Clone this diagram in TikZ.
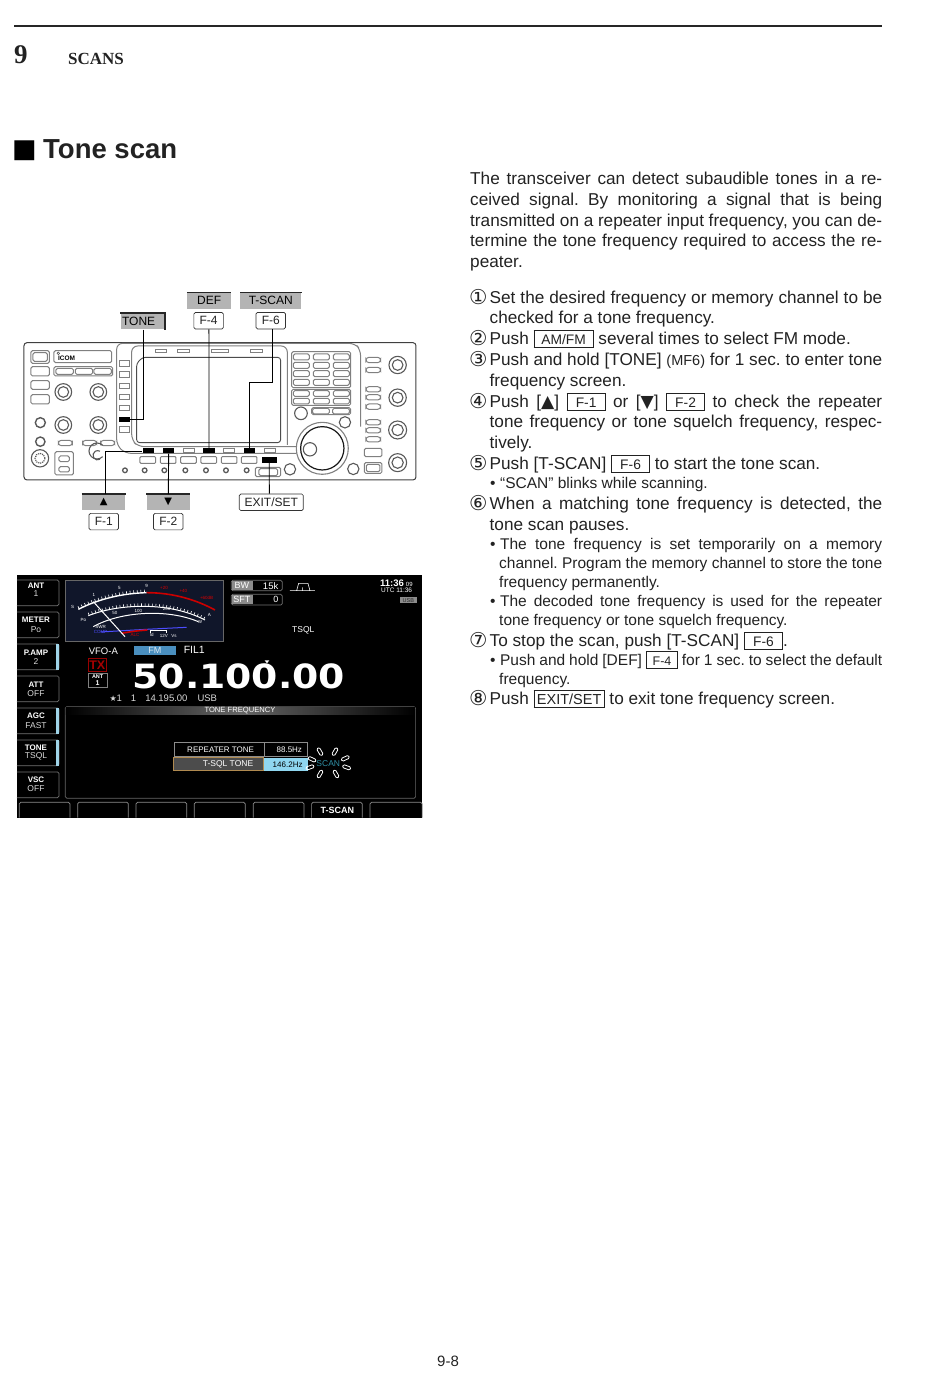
\documentclass[tikz,border=0pt]{standalone}
\usepackage{fontspec}
\setmainfont{Liberation Sans}
\newfontfamily\djvface{DejaVu Sans}
\newfontfamily\serifface{Liberation Serif}
\usepackage{xcolor}
\usetikzlibrary{positioning, calc}
\definecolor{inktext}{HTML}{222222}
\definecolor{lblgray}{HTML}{B4B4B4}
\definecolor{fmblue}{HTML}{4A8FBF}
\definecolor{tsqlblue}{HTML}{8FD6F0}
\definecolor{sideblue}{HTML}{9FD4E8}
\definecolor{meternavy}{HTML}{10162A}
\definecolor{tonebrown}{HTML}{B08A50}
\definecolor{scanteal}{HTML}{2F8FA5}
\newcommand{\pxsize}[1]{\fontsize{#1}{#1}\selectfont}
\newcommand{\fullline}[2]{\hbox to #1pt{#2}}
\newcommand{\keybox}[2]{{\fboxsep=0pt\fboxrule=0.7pt\framebox[#1pt]{\rule[-2.5pt]{0pt}{16pt}\pxsize{13.8}#2}}}
\newcommand{\tri}[1]{{\djvface #1}}
\tikzset{
  linetxt/.style={anchor=base west, inner sep=0pt, text=inktext, font=\pxsize{17.2}},
  subtxt/.style={anchor=base west, inner sep=0pt, text=inktext, font=\pxsize{15.5}},
  numtxt/.style={anchor=base west, inner sep=0pt, text=inktext, font=\djvface\pxsize{20.5}},
  pbtn/.style={draw=black!50, line width=1pt, rounded corners=1.5pt, fill=white},
  pknob/.style={draw=black!65, line width=1.1pt, fill=white},
  blackkey/.style={fill=black, inner sep=0pt, minimum width=11.5pt, minimum height=5pt},
  conn/.style={draw=black, line width=0.9pt},
  whitelbl/.style={draw=black!80, line width=0.7pt, rounded corners=1.5pt, fill=white, inner sep=0pt, minimum height=16.5pt, text=inktext, font=\pxsize{12}},
  graylbl/.style={fill=lblgray, inner sep=0pt, minimum height=16pt, text=black, font=\pxsize{12}},
  scrtxt/.style={inner sep=0pt, text=white, font=\bfseries\pxsize{8}},
  scrthin/.style={inner sep=0pt, text=black!15, font=\pxsize{8.5}},
  tinytxt/.style={inner sep=0pt, text=white, font=\pxsize{4.5}},
  scrbtn/.style={draw=black!55, line width=0.7pt, rounded corners=1.5pt},
  blink/.style={draw=white, line width=0.8pt, rounded corners=1.2pt, minimum width=8pt, minimum height=3.2pt, inner sep=0pt},
}
\begin{document}
\frenchspacing
\begin{tikzpicture}[x=1pt,y=-1pt]
\useasboundingbox (0,0) rectangle (950,1388);
\draw[line width=1.8pt, black!85] (14,26) -- (882,26);
\node[anchor=base west, inner sep=0pt, font=\serifface\bfseries\pxsize{27}, text=inktext] (chapnum) at (14,64) {9};
\node[anchor=base west, inner sep=0pt, font=\serifface\bfseries\pxsize{17}, text=inktext] (chaptitle) at (68,65) {SCANS};
\node[anchor=base west, inner sep=0pt, font=\djvface\pxsize{26}, text=black] (headmark) at (12,157.5) {■};
\node[anchor=base west, inner sep=0pt, font=\bfseries\pxsize{27.5}, text=inktext] (heading) at (43,159) {Tone scan};
\node[anchor=base, inner sep=0pt, font=\pxsize{15}, text=inktext] (pagenum) at (448,1366) {9-8};

\node[linetxt] (intro1) at (470,185) {\fullline{412}{The transceiver can detect subaudible tones in a re-}};
\node[linetxt] (intro2) at (470,206) {\fullline{412}{ceived signal. By monitoring a signal that is being}};
\node[linetxt] (intro3) at (470,226) {\fullline{412}{transmitted on a repeater input frequency, you can de-}};
\node[linetxt] (intro4) at (470,247) {\fullline{412}{termine the tone frequency required to access the re-}};
\node[linetxt] (intro5) at (470,267.5) {peater.};

\foreach \num/\ypos [count=\i] in {①/304,②/345,③/366,④/408,⑤/470,⑥/510,⑦/647,⑧/705}
  \node[numtxt] (num\i) at (469,\ypos) {\num};

\node[linetxt] (s1a) at (489.5,303) {\fullline{392.5}{Set the desired frequency or memory channel to be}};
\node[linetxt] (s1b) at (489.5,323.5) {checked for a tone frequency.};
\node[linetxt] (s2a) at (489.5,344) {Push \keybox{60}{AM/FM} several times to select FM mode.};
\node[linetxt] (s3a) at (489.5,365) {\fullline{392.5}{Push and hold [TONE] {\pxsize{14.5}(MF6)} for 1 sec. to enter tone}};
\node[linetxt] (s3b) at (489.5,386) {frequency screen.};
\node[linetxt] (s4a) at (489.5,407) {\fullline{392.5}{Push [\tri{▲}] \keybox{39}{F-1} or [\tri{▼}] \keybox{39}{F-2} to check the repeater}};
\node[linetxt] (s4b) at (489.5,427) {\fullline{392.5}{tone frequency or tone squelch frequency, respec-}};
\node[linetxt] (s4c) at (489.5,448) {tively.};
\node[linetxt] (s5a) at (489.5,469) {Push [T-SCAN] \keybox{39}{F-6} to start the tone scan.};
\node[subtxt] (s5b) at (490,488) {•\hspace{4.5pt}“SCAN” blinks while scanning.};
\node[linetxt] (s6a) at (489.5,509) {\fullline{392.5}{When a matching tone frequency is detected, the}};
\node[linetxt] (s6b) at (489.5,530) {tone scan pauses.};
\node[subtxt] (s6c) at (490,549) {\fullline{392}{•\hspace{4.5pt}The tone frequency is set temporarily on a memory}};
\node[subtxt] (s6d) at (499,568) {\fullline{383}{channel. Program the memory channel to store the tone}};
\node[subtxt] (s6e) at (499,587) {frequency permanently.};
\node[subtxt] (s6f) at (490,606) {\fullline{392}{•\hspace{4.5pt}The decoded tone frequency is used for the repeater}};
\node[subtxt] (s6g) at (499,625) {tone frequency or tone squelch frequency.};
\node[linetxt] (s7a) at (489.5,646) {To stop the scan, push [T-SCAN] \keybox{39}{F-6}.};
\node[subtxt] (s7b) at (490,665) {\fullline{392}{•\hspace{4.5pt}Push and hold [DEF] \keybox{32}{\pxsize{12.5}F-4} for 1 sec. to select the default}};
\node[subtxt] (s7c) at (499,684) {frequency.};
\node[linetxt] (s8a) at (489.5,704) {Push \keybox{71}{\pxsize{14.5}EXIT/SET} to exit tone frequency screen.};

% front panel
\begin{scope}[shift={(10,280)},x=0.3333pt,y=-0.3333pt]
\draw[draw=black!75, line width=1pt, rounded corners=3pt, fill=white] (42,188) rectangle (1218,600);
\draw[pbtn] (63,212) rectangle (118,250);
\draw[pbtn] (69,218) rectangle (112,244);
\draw[pbtn] (63,260) rectangle (118,288);
\draw[pbtn] (63,302) rectangle (118,328);
\draw[pbtn] (63,344) rectangle (118,372);
\draw[pbtn] (132,212) rectangle (305,248);
\node[inner sep=0pt, font=\bfseries\pxsize{6.5}, text=black] (icomlbl) at (170,236) {ICOM};
\draw[black!70, line width=0.5pt] (145,220) circle (4);
\draw[pbtn] (132,260) rectangle (308,288);
\foreach \x in {138,196,252}
  \draw[pbtn] (\x,265) rectangle ++(52,18);
\foreach \x/\y in {160/336,265/336,160/435,265/435} {
  \draw[pknob] (\x,\y) circle (25);
  \draw[pknob] (\x,\y) circle (16);
}
\draw[pknob, line width=1.4pt] (91,428) circle (15);
\draw[pknob, line width=1.4pt] (91,485) circle (14);
\foreach \x in {145,218,272}
  \draw[pbtn, rounded corners=3pt] (\x,481) rectangle ++(42,16);
\draw[pknob] (90,535) circle (26);
\draw[pknob, densely dotted, line width=1.2pt] (90,535) circle (15);
\draw[pbtn] (135,515) rectangle (190,585);
\draw[pbtn] (147,528) rectangle (178,545);
\draw[pbtn] (147,560) rectangle (178,576);
\draw[draw=black!65, line width=1.1pt] (278,530) arc[start angle=45, end angle=315, radius=24];
\draw[draw=black!65, line width=1.1pt] (270,538) arc[start angle=60, end angle=300, radius=14];
% bezel
\draw[black!50, line width=1pt, rounded corners=6pt] (860,520) -- (345,520) -- (320,495) -- (320,190) -- (1035,190) -- (1052,210) -- (1052,440);
\draw[black!50, line width=1pt, rounded corners=6pt] (860,500) -- (385,500) -- (365,480) -- (365,198) -- (832,198) -- (832,495);
\draw[black!70, line width=0.9pt, rounded corners=3pt] (380,250) -- (380,488) -- (812,488) -- (812,232) -- (398,232) -- cycle;
\foreach \x/\w in {436/34,503/35,606/50,723/34}
  \draw[pbtn, rounded corners=0pt] (\x,208) rectangle ++(\w,10);
\foreach \y in {243,276,310,343,376,441}
  \draw[pbtn, rounded corners=0pt] (328,\y) rectangle ++(30,16);
\foreach \x in {520,640,763}
  \draw[pbtn, rounded corners=0pt] (\x,505) rectangle ++(34,14);
\foreach \x in {390,451,512,573,634,694}
  \draw[pbtn, rounded corners=1pt] (\x,530) rectangle ++(47,20);
\foreach \x in {345,404,463,526,588,648,710}
  \draw[pknob, line width=1.3pt] (\x,571) circle (7);
\draw[pbtn] (736,562) rectangle (812,590);
\draw[pbtn] (747,566) rectangle (803,587);
\draw[pknob] (840,568) circle (17);
\draw[pknob, draw=black!50] (937,505) circle (78);
\draw[pknob, draw=black!90, line width=1.2pt] (937,505) circle (65);
\draw[pknob] (900,508) circle (20);
\draw[pknob] (873,400) circle (19);
\draw[pknob] (1005,427) circle (17);
\draw[pknob] (1030,567) circle (17);
% keypad
\draw[pbtn] (845,215) rectangle (1022,323);
\foreach \y in {222,247,272,298}
  \foreach \x in {850,910,970}
    \draw[pbtn] (\x,\y) rectangle ++(48,18);
\draw[pbtn] (845,328) rectangle (1022,376);
\foreach \y in {332,355}
  \foreach \x in {850,910,970}
    \draw[pbtn] (\x,\y) rectangle ++(48,17);
\draw[pbtn] (905,383) rectangle (1022,404);
\draw[pbtn] (908,385) rectangle (958,402);
\draw[pbtn] (968,385) rectangle (1018,402);
\foreach \y in {240,270,328,352,380,427,451,478}
  \draw[pbtn, rounded corners=3pt] (1068,\y-8) rectangle ++(44,16);
\draw[pbtn] (1063,505) rectangle (1116,530);
\draw[pbtn] (1063,548) rectangle (1116,580);
\draw[pbtn] (1069,553) rectangle (1110,575);
\foreach \y/\r in {255/16,353/16,450/17,548/17} {
  \draw[pknob] (1163,\y) circle (\r+10);
  \draw[pknob] (1163,\y) circle (\r);
}
% keys and labels
\node[blackkey, minimum width=11pt] (keytone) at (343.5,418) {};
\node[blackkey] (keyf1) at (415,513) {};
\node[blackkey] (keyf2) at (476,513) {};
\node[blackkey] (keyf4) at (597,513) {};
\node[blackkey] (keyf6) at (718,513) {};
\node[blackkey, minimum width=15pt, minimum height=6pt] (keyexit) at (780,540) {};
\node[graylbl, minimum width=44pt] (tone) at (398,124) {TONE\kern8pt};
\node[graylbl, minimum width=44pt] (def) at (597.5,62) {DEF};
\node[whitelbl, minimum width=29.5pt] (f4) at (596,122) {F-4};
\node[graylbl, minimum width=61pt] (tscan) at (782.5,62) {T-SCAN};
\node[whitelbl, minimum width=29.5pt] (f6) at (782.5,122) {F-6};
\node[graylbl, minimum width=43.5pt] (up) at (281,667) {\djvface\pxsize{10}▲};
\node[whitelbl, minimum width=29.5pt] (f1) at (281.5,725) {F-1};
\node[graylbl, minimum width=43.5pt] (down) at (475,667) {\djvface\pxsize{10}▼};
\node[whitelbl, minimum width=29.5pt] (f2) at (475,725) {F-2};
\node[whitelbl, minimum width=64pt] (exitset) at (784,667) {EXIT/SET};
\draw[black!85, line width=1.5pt] (tone.north west) -- (tone.north east) -- (tone.south east);
\draw[black!85, line width=1.5pt] (def.north west) -- (def.north east);
\draw[black!85, line width=1.5pt] (tscan.north west) -- (tscan.north east);
\draw[black!85, line width=1.5pt] (up.north west) -- (up.north east);
\draw[black!85, line width=1.5pt] (down.north west) -- (down.north east);
\draw[conn] (tone.south) ++(2,0) |- (keytone.east);
\draw[conn] ([xshift=0.3pt]f4.south) -- (keyf4.north);
\draw[conn] ([xshift=1.8pt]f6.south) -- ++(0,160) -| (keyf6.north);
\draw[conn] ([xshift=1.3pt]up.north) |- (keyf1.west);
\draw[conn] (down.north) -- (keyf2.south);
\draw[conn] ([xshift=-2pt]exitset.north) -- ([xshift=-0.7pt]keyexit.south);
\end{scope}

% screen
\begin{scope}[shift={(10,570)},x=0.3333pt,y=-0.3333pt]
\fill[black] (21,14) rectangle (1237,743);
\foreach \ya/\top/\bot/\dt/\db [count=\i] in {30/ANT/1/18/40,126/METER/Po/24/52,222/P.AMP/2/26/54,318/ATT/OFF/27/54,414/AGC/FAST/24/54,510/TONE/TSQL/22/50,606/VSC/OFF/22/51} {
  \draw[scrbtn] (21,\ya) -- (147,\ya) -- (147,\ya+77) -- (21,\ya+77);
  \node[scrtxt] (sidetop\i) at (78,\ya+\dt) {\top};
  \node[scrthin] (sidebot\i) at (78,\ya+\db) {\bot};
}
\foreach \ya in {222,414,510}
  \fill[sideblue] (137,\ya) rectangle (147,\ya+77);
\draw[fill=meternavy, draw=black!60, line width=0.5pt] (166,30) rectangle (641,215);
\draw[white, line width=1.4pt] (205,118) .. controls (270,85) and (340,70) .. (410,68);
\draw[white, line width=3pt, dash pattern=on 0.6pt off 3pt] (205,113) .. controls (270,80) and (340,65) .. (410,63);
\draw[red!80!black, line width=1.6pt] (410,68) .. controls (490,68) and (560,90) .. (615,120);
\draw[white, line width=1pt] (235,137) .. controls (330,100) and (480,95) .. (585,150);
\draw[white, line width=2.5pt, dash pattern=on 0.6pt off 3pt] (235,132) .. controls (330,95) and (480,90) .. (585,145);
\draw[white, line width=1pt] (250,170) .. controls (330,125) and (470,115) .. (565,155);
\draw[blue!70!white, line width=1pt] (272,186) .. controls (340,182) and (400,178) .. (530,172);
\draw[red!80!black, line width=1.6pt] (335,190) .. controls (360,185) and (385,182) .. (412,180);
\draw[white, line width=0.8pt] (422,190) -- (422,182) -- (470,182) -- (470,190);
\draw[white, line width=1pt] (250,95) -- (345,200);
\foreach \xa/\ya/\txt [count=\i] in {188/110/S,252/76/1,328/53/5,410/48/9,220/150/Po,315/130/50,385/122/100,470/118/200,272/170/SWR,425/195/Id,462/197/12V,492/197/Vs,598/135/A,570/155/W}
  \node[tinytxt] (meterw\i) at (\xa,\ya) {\txt};
\foreach \xa/\ya/\txt [count=\i] in {462/55/+20,520/62/+40,590/85/+60dB,375/195/ALC}
  \node[tinytxt, text=red!85!black] (meterr\i) at (\xa,\ya) {\txt};
\node[tinytxt, text=blue!70!white] (metercomp) at (272,185) {COMP};
\draw[scrbtn] (664,31) rectangle (817,62);
\fill[black!45] (666,33) rectangle (728,60);
\node[scrtxt, font=\pxsize{9}] (bwlbl) at (696,47) {BW};
\node[scrtxt, font=\pxsize{9.5}] (bwval) at (782,47) {15k};
\draw[scrbtn] (664,73) rectangle (817,105);
\fill[black!45] (666,75) rectangle (728,103);
\node[scrtxt, font=\pxsize{9}] (sftlbl) at (696,89) {SFT};
\node[scrtxt, font=\pxsize{9}] (sftval) at (798,89) {0};
\draw[white, line width=0.6pt] (840,62) -- (915,62) (860,62) -- (866,40) -- (894,40) -- (900,62) (878,52) -- (878,62);
\node[scrtxt, font=\bfseries\pxsize{9.5}] (clock) at (1146,40) {11:36};
\node[scrtxt, font=\pxsize{6}] (clocksec) at (1198,42) {09};
\node[scrtxt, font=\pxsize{6.5}] (utcclock) at (1160,62) {UTC 11:36};
\fill[black!45] (1170,82) rectangle (1220,100);
\node[scrtxt, font=\pxsize{5.5}, text=black!85] (usbtag) at (1195,91) {USB};
\node[scrtxt, font=\pxsize{8.5}] (tsql) at (880,180) {TSQL};
\node[scrtxt, font=\pxsize{9.5}] (vfoa) at (280,243) {VFO-A};
\fill[fmblue] (371,227) rectangle (498,256);
\node[scrtxt, font=\pxsize{9}, text=white!80!fmblue] (fmtag) at (435,241) {FM};
\node[scrtxt, font=\pxsize{10.5}] (fil) at (553,241) {FIL1};
\draw[draw=red!60!black, line width=0.7pt, fill=black] (235,265) rectangle (290,305);
\node[scrtxt, font=\bfseries\pxsize{12.5}, text=red!65!black] (txtag) at (262,285) {TX};
\draw[draw=black!50, line width=0.6pt] (235,310) rectangle (292,352);
\node[scrtxt, font=\bfseries\pxsize{5.5}] (anta) at (263,320) {ANT};
\node[scrtxt, font=\bfseries\pxsize{7}] (antb) at (263,339) {1};
\node[anchor=base west, inner sep=0pt, text=white, font=\djvface\bfseries\pxsize{33.4}, xscale=1.13] (freq) at (367,355) {50.100.00};
\fill[white] (764,271) -- (778,271) -- (771,280) -- cycle;
\node[anchor=base west, inner sep=0pt, text=black!15, font=\pxsize{9.5}] (subfreq) at (298,394) {{\djvface\pxsize{8}★}1\hspace{9pt}1\hspace{9pt}14.195.00\hspace{10pt}USB};
\draw[scrbtn, draw=black!60, fill=black] (166,410) rectangle (1217,685);
\shade[left color=black, right color=black, middle color=black!60] (168,412) rectangle (1215,435);
\node[scrtxt, font=\pxsize{7.6}] (tonefreq) at (690,423) {TONE FREQUENCY};
\draw[draw=black!45, line width=0.6pt] (492,518) rectangle (762,560);
\draw[draw=black!45, line width=0.6pt] (762,518) rectangle (893,560);
\node[scrtxt, font=\pxsize{8}] (reptone) at (632,540) {REPEATER TONE};
\node[scrtxt, font=\pxsize{8}] (repval) at (838,540) {88.5Hz};
\draw[draw=tonebrown, line width=1pt, fill=black!70] (492,563) rectangle (762,603);
\fill[tsqlblue] (763,563) rectangle (893,603);
\node[scrtxt, font=\pxsize{8.5}] (tsqltone) at (654,582) {T-SQL TONE};
\node[scrtxt, font=\pxsize{8}, text=black] (tsqlval) at (833,583) {146.2Hz};
\node[scrtxt, font=\pxsize{8.5}, text=scanteal] (scanlbl) at (955,582) {SCAN};
\foreach \xa/\ya/\ang [count=\i] in {930/545/-60,975/545/60,906/568/-25,1006/565/25,900/592/20,1010/592/-20,930/612/60,978/612/-60}
  \node[blink, rotate=\ang] (blink\i) at (\xa,\ya) {};
\foreach \xa/\xb in {28/180,203/355,378/530,553/706,730/882,905/1057,1080/1237}
  \draw[scrbtn, draw=black!45] (\xa,743) -- (\xa,697) -- (\xb,697) -- (\xb,743);
\node[scrtxt, font=\bfseries\pxsize{9}] (tscankey) at (982,722) {T-SCAN};
\end{scope}
\end{tikzpicture}
\end{document}
